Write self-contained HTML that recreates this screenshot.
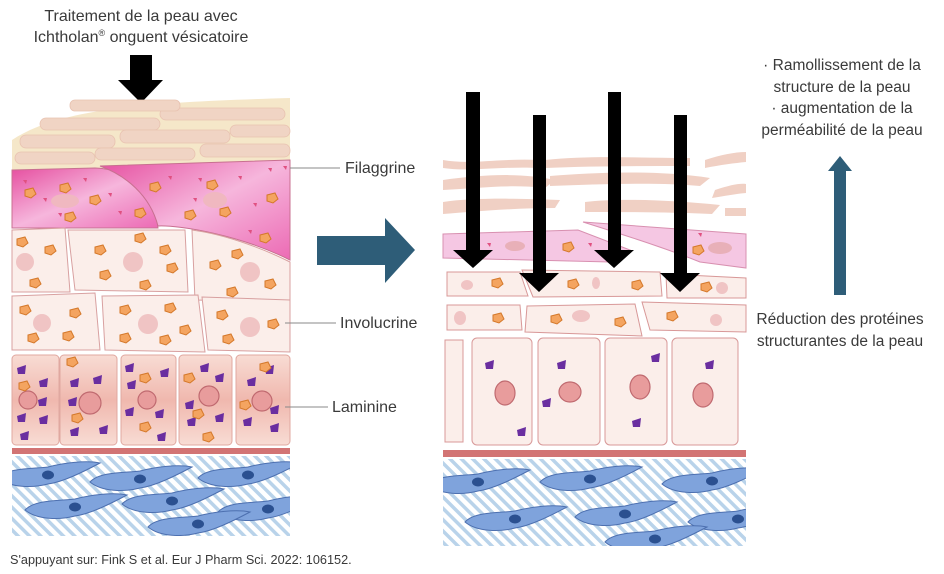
<!DOCTYPE html>
<html><head><meta charset="utf-8"><style>
html,body{margin:0;padding:0;background:#fff}
svg{display:block}
text{font-family:"Liberation Sans",sans-serif;fill:#3a3a3a}
</style></head><body>
<svg width="944" height="574" viewBox="0 0 944 574" xmlns="http://www.w3.org/2000/svg">
<defs>
<pattern id="hatch" width="8" height="8" patternUnits="userSpaceOnUse" patternTransform="rotate(-45)">
<rect width="8" height="8" fill="#fff"/><rect width="3.5" height="8" fill="#b9d3ea"/></pattern>
<linearGradient id="pinkG" x1="0" y1="0" x2="1" y2="1"><stop offset="0" stop-color="#e64fa0"/><stop offset=".5" stop-color="#f6b6dc"/><stop offset="1" stop-color="#ec6ab4"/></linearGradient>
<linearGradient id="basal" x1="0" y1="0" x2="0" y2="1"><stop offset="0" stop-color="#f8dcd4"/><stop offset=".5" stop-color="#f0b8ae"/><stop offset="1" stop-color="#f8dcd4"/></linearGradient>
<clipPath id="cl"><rect x="12" y="456" width="278" height="80"/></clipPath>
<clipPath id="cr"><rect x="443" y="459" width="303" height="87"/></clipPath>
<g id="gran"><path d="M-5,-3 L3,-5 L6,1 L1,5 L-5,3 Z" fill="#f4a460" stroke="#d4782a" stroke-width="1"/></g>
<g id="purp"><path d="M-5,-2 L4,-5 L3,4 L-4,4 Z" fill="#6a2ea0"/></g>
<g id="dot"><path d="M-2,-2 L2,-2 L1,2 Z" fill="#e05080"/></g>
<g id="fib"><path d="M-50,0 C-40,-11 -12,-9 0,-11 C15,-15 38,-18 52,-15 C35,-6 15,4 0,6 C-15,10 -38,10 -50,0 Z" fill="#7fa3dc" stroke="#4d70b0" stroke-width="1"/><ellipse cx="0" cy="-3" rx="6" ry="4.5" fill="#2b5090"/></g>
</defs>

<text x="141" y="21" font-size="16" text-anchor="middle">Traitement de la peau avec</text>
<text x="141" y="42" font-size="16" text-anchor="middle">Ichtholan<tspan font-size="9" dy="-6">®</tspan><tspan dy="6">  onguent vésicatoire</tspan></text>
<polygon points="130,55 152,55 152,80 163,80 141,103 118,80 130,80" fill="#000"/>

<!-- LEFT PANEL -->
<path d="M12,140 C60,108 150,102 290,98 L290,172 L12,172 Z" fill="#f5e7c9"/>
<g fill="#f0d4c4" stroke="#e8c2b0" stroke-width="0.8">
<rect x="40" y="118" width="120" height="12" rx="6"/><rect x="160" y="108" width="125" height="12" rx="6"/>
<rect x="20" y="135" width="95" height="13" rx="6"/><rect x="120" y="130" width="110" height="13" rx="6"/><rect x="230" y="125" width="60" height="12" rx="6"/>
<rect x="15" y="152" width="80" height="12" rx="6"/><rect x="95" y="148" width="100" height="12" rx="6"/><rect x="200" y="144" width="90" height="13" rx="6"/>
<rect x="70" y="100" width="110" height="11" rx="5"/>
</g>
<path d="M12,170 L95,168 C130,168 155,200 158,228 L12,228 Z" fill="url(#pinkG)" stroke="#c87090" stroke-width="1"/>
<path d="M100,166 L290,160 L290,260 C240,235 180,225 158,226 C150,195 125,175 100,166 Z" fill="url(#pinkG)" stroke="#c87090" stroke-width="1"/>
<g>
<use href="#gran" x="30" y="193"/><use href="#gran" x="65" y="188"/><use href="#gran" x="95" y="200"/><use href="#gran" x="70" y="217"/><use href="#gran" x="140" y="213"/>
<use href="#gran" x="155" y="187"/><use href="#gran" x="212" y="185"/><use href="#gran" x="272" y="198"/><use href="#gran" x="190" y="215"/><use href="#gran" x="225" y="212"/><use href="#gran" x="265" y="238"/>
<use href="#dot" x="25" y="182"/><use href="#dot" x="45" y="200"/><use href="#dot" x="60" y="215"/><use href="#dot" x="85" y="180"/><use href="#dot" x="110" y="195"/><use href="#dot" x="120" y="213"/><use href="#dot" x="170" y="178"/><use href="#dot" x="200" y="180"/><use href="#dot" x="195" y="200"/><use href="#dot" x="240" y="178"/><use href="#dot" x="255" y="205"/><use href="#dot" x="250" y="232"/><use href="#dot" x="270" y="170"/><use href="#dot" x="285" y="168"/>
</g>
<ellipse cx="65" cy="201" rx="14" ry="7" fill="#f0b8c0"/><ellipse cx="215" cy="200" rx="12" ry="8" fill="#f0b8c0"/>
<g fill="#fbeeea" stroke="#d8a0a0" stroke-width="1">
<path d="M12,230 L65,228 L70,292 L12,292 Z"/><path d="M68,230 L185,230 L188,292 L75,290 Z"/><path d="M192,230 C230,235 270,252 290,262 L290,302 L195,300 Z"/>
<path d="M12,296 L95,293 L100,350 L12,350 Z"/><path d="M102,296 L198,295 L205,352 L105,350 Z"/><path d="M202,297 L290,300 L290,352 L208,350 Z"/>
</g>
<g fill="#f0c4c4"><circle cx="25" cy="262" r="9"/><circle cx="133" cy="262" r="10"/><circle cx="250" cy="272" r="10"/><circle cx="42" cy="323" r="9"/><circle cx="148" cy="324" r="10"/><circle cx="250" cy="327" r="10"/></g>
<g><use href="#gran" x="22" y="242"/><use href="#gran" x="50" y="250"/><use href="#gran" x="35" y="283"/><use href="#gran" x="100" y="250"/><use href="#gran" x="140" y="238"/><use href="#gran" x="165" y="250"/><use href="#gran" x="105" y="275"/><use href="#gran" x="145" y="285"/><use href="#gran" x="172" y="268"/><use href="#gran" x="215" y="265"/><use href="#gran" x="237" y="254"/><use href="#gran" x="270" y="284"/><use href="#gran" x="232" y="292"/>
<use href="#gran" x="25" y="310"/><use href="#gran" x="75" y="313"/><use href="#gran" x="33" y="338"/><use href="#gran" x="68" y="336"/><use href="#gran" x="125" y="310"/><use href="#gran" x="170" y="308"/><use href="#gran" x="185" y="330"/><use href="#gran" x="125" y="338"/><use href="#gran" x="165" y="340"/><use href="#gran" x="222" y="315"/><use href="#gran" x="273" y="324"/><use href="#gran" x="228" y="339"/></g>
<g fill="url(#basal)" stroke="#e0a8a0" stroke-width="1">
<rect x="12" y="355" width="47" height="90" rx="4"/><rect x="60" y="355" width="57" height="90" rx="4"/><rect x="121" y="355" width="55" height="90" rx="4"/><rect x="179" y="355" width="53" height="90" rx="4"/><rect x="236" y="355" width="54" height="90" rx="4"/>
</g>
<g fill="#e89c9c" stroke="#c06a70" stroke-width="1.2"><circle cx="28" cy="400" r="9"/><circle cx="90" cy="403" r="11"/><circle cx="147" cy="400" r="9"/><circle cx="209" cy="396" r="10"/><circle cx="262" cy="401" r="10"/></g>
<g><use href="#purp" x="22" y="370"/><use href="#purp" x="44" y="383"/><use href="#purp" x="43" y="402"/><use href="#purp" x="22" y="418"/><use href="#purp" x="44" y="420"/><use href="#purp" x="25" y="436"/>
<use href="#purp" x="75" y="383"/><use href="#purp" x="98" y="380"/><use href="#purp" x="73" y="402"/><use href="#purp" x="75" y="432"/><use href="#purp" x="104" y="430"/>
<use href="#purp" x="130" y="368"/><use href="#purp" x="165" y="373"/><use href="#purp" x="132" y="385"/><use href="#purp" x="130" y="412"/><use href="#purp" x="160" y="414"/><use href="#purp" x="162" y="437"/>
<use href="#purp" x="205" y="368"/><use href="#purp" x="220" y="378"/><use href="#purp" x="190" y="405"/><use href="#purp" x="220" y="418"/><use href="#purp" x="192" y="422"/>
<use href="#purp" x="270" y="370"/><use href="#purp" x="252" y="382"/><use href="#purp" x="275" y="410"/><use href="#purp" x="248" y="422"/><use href="#purp" x="275" y="428"/></g>
<g><use href="#gran" x="24" y="386"/><use href="#gran" x="72" y="362"/><use href="#gran" x="77" y="418"/><use href="#gran" x="145" y="378"/><use href="#gran" x="145" y="427"/><use href="#gran" x="189" y="378"/><use href="#gran" x="198" y="414"/><use href="#gran" x="208" y="437"/><use href="#gran" x="265" y="367"/><use href="#gran" x="245" y="405"/></g>
<rect x="12" y="448" width="278" height="6" fill="#d27474"/>
<rect x="12" y="456" width="278" height="80" fill="url(#hatch)"/>
<g clip-path="url(#cl)">
<use href="#fib" x="48" y="478"/><use href="#fib" x="140" y="482"/><use href="#fib" x="248" y="478"/><use href="#fib" x="75" y="510"/><use href="#fib" x="172" y="504"/><use href="#fib" x="268" y="512"/><use href="#fib" x="198" y="527"/>
</g>

<line x1="290" y1="168" x2="340" y2="168" stroke="#888"/><text x="345" y="173" font-size="16">Filaggrine</text>
<line x1="285" y1="323" x2="336" y2="323" stroke="#888"/><text x="340" y="328" font-size="16">Involucrine</text>
<line x1="285" y1="407" x2="328" y2="407" stroke="#888"/><text x="332" y="412" font-size="16">Laminine</text>

<polygon points="317,236 385,236 385,218 415,250 385,283 385,265 317,265" fill="#2e5d78"/>

<!-- RIGHT PANEL -->
<g fill="#f0d0c4">
<path d="M443,160 C470,165 500,158 540,160 L540,168 C500,166 470,172 443,168 Z"/>
<path d="M545,160 C590,155 640,158 690,158 L690,166 C640,166 590,166 545,168 Z"/>
<path d="M705,160 C720,155 735,152 746,152 L746,162 C735,163 720,165 705,168 Z"/>
<path d="M443,180 C480,175 520,172 555,180 L545,188 C510,184 480,188 443,190 Z"/>
<path d="M550,176 C600,172 660,170 710,178 L700,186 C660,182 600,184 550,186 Z"/>
<path d="M715,190 C730,185 740,183 746,184 L746,193 C735,194 725,196 712,198 Z"/>
<path d="M443,202 C470,198 510,198 560,200 L555,208 C510,208 470,212 443,214 Z"/>
<path d="M585,202 C620,198 670,200 720,205 L712,214 C670,212 620,212 585,212 Z"/>
<path d="M725,208 L746,208 L746,216 L725,216 Z"/>
</g>
<path d="M443,234 L578,230 L630,250 L610,262 L443,258 Z" fill="#f5c7e3" stroke="#d890b0"/>
<path d="M583,222 L746,234 L746,268 L700,262 C670,250 640,240 583,222 Z" fill="#f5c7e3" stroke="#d890b0"/>
<ellipse cx="515" cy="246" rx="10" ry="5" fill="#e8b0b8"/><ellipse cx="720" cy="248" rx="12" ry="6" fill="#e8b0b8"/>
<use href="#gran" x="568" y="247"/><use href="#gran" x="698" y="250"/><use href="#dot" x="489" y="245"/><use href="#dot" x="590" y="245"/><use href="#dot" x="700" y="235"/>
<g fill="#fbeeea" stroke="#d89898" stroke-width="1">
<path d="M447,272 L520,272 L528,296 L447,296 Z"/><path d="M522,270 L660,272 L662,296 L533,297 Z"/><path d="M666,274 L746,278 L746,298 L667,298 Z"/>
<path d="M447,305 L520,305 L522,330 L447,330 Z"/><path d="M527,306 L635,304 L642,336 L525,332 Z"/><path d="M642,302 L746,305 L746,332 L650,330 Z"/>
<path d="M445,340 L463,340 L463,442 L445,442 Z"/><rect x="472" y="338" width="60" height="107" rx="5"/><rect x="538" y="338" width="62" height="107" rx="5"/><rect x="605" y="338" width="62" height="107" rx="5"/><rect x="672" y="338" width="66" height="107" rx="5"/>
</g>
<g fill="#f0c4c4"><ellipse cx="467" cy="285" rx="6" ry="5"/><ellipse cx="596" cy="283" rx="4" ry="6"/><ellipse cx="722" cy="288" rx="6" ry="6"/><ellipse cx="460" cy="318" rx="6" ry="7"/><ellipse cx="581" cy="316" rx="9" ry="6"/><ellipse cx="716" cy="320" rx="6" ry="6"/></g>
<g><use href="#gran" x="497" y="283"/><use href="#gran" x="573" y="284"/><use href="#gran" x="637" y="285"/><use href="#gran" x="706" y="287"/><use href="#gran" x="498" y="318"/><use href="#gran" x="556" y="319"/><use href="#gran" x="620" y="322"/><use href="#gran" x="672" y="316"/></g>
<g fill="#e89c9c" stroke="#c06a70" stroke-width="1.2"><ellipse cx="505" cy="393" rx="10" ry="12"/><ellipse cx="570" cy="392" rx="11" ry="10"/><ellipse cx="640" cy="387" rx="10" ry="12"/><ellipse cx="703" cy="395" rx="10" ry="12"/></g>
<g><use href="#purp" x="490" y="365"/><use href="#purp" x="522" y="432"/><use href="#purp" x="562" y="365"/><use href="#purp" x="547" y="403"/><use href="#purp" x="656" y="358"/><use href="#purp" x="637" y="423"/><use href="#purp" x="710" y="365"/></g>
<rect x="443" y="450" width="303" height="7" fill="#d27474"/>
<rect x="443" y="459" width="303" height="87" fill="url(#hatch)"/>
<g clip-path="url(#cr)">
<use href="#fib" x="478" y="485"/><use href="#fib" x="590" y="482"/><use href="#fib" x="712" y="484"/><use href="#fib" x="515" y="522"/><use href="#fib" x="625" y="517"/><use href="#fib" x="738" y="522"/><use href="#fib" x="655" y="542"/>
</g>
<g fill="#000">
<polygon points="466,92 480,92 480,250 493,250 473,268 453,250 466,250"/>
<polygon points="533,115 546,115 546,273 559,273 539,292 519,273 533,273"/>
<polygon points="608,92 621,92 621,250 634,250 614,268 594,250 608,250"/>
<polygon points="674,115 687,115 687,273 700,273 680,292 660,273 674,273"/>
</g>

<text x="842" y="70" font-size="15.5" text-anchor="middle">· Ramollissement de la</text>
<text x="842" y="92" font-size="15.5" text-anchor="middle">structure de la peau</text>
<text x="842" y="113" font-size="15.5" text-anchor="middle">· augmentation de la</text>
<text x="842" y="135" font-size="15.5" text-anchor="middle">perméabilité de la peau</text>
<polygon points="840,156 852,171 846,171 846,295 834,295 834,171 828,171" fill="#2e5d78"/>
<text x="840" y="324" font-size="15.5" text-anchor="middle">Réduction des protéines</text>
<text x="840" y="346" font-size="15.5" text-anchor="middle">structurantes de la peau</text>

<text x="10" y="564" font-size="12.7" fill="#444">S'appuyant sur: Fink S et al. Eur J Pharm Sci. 2022: 106152.</text>
</svg>
</body></html>
